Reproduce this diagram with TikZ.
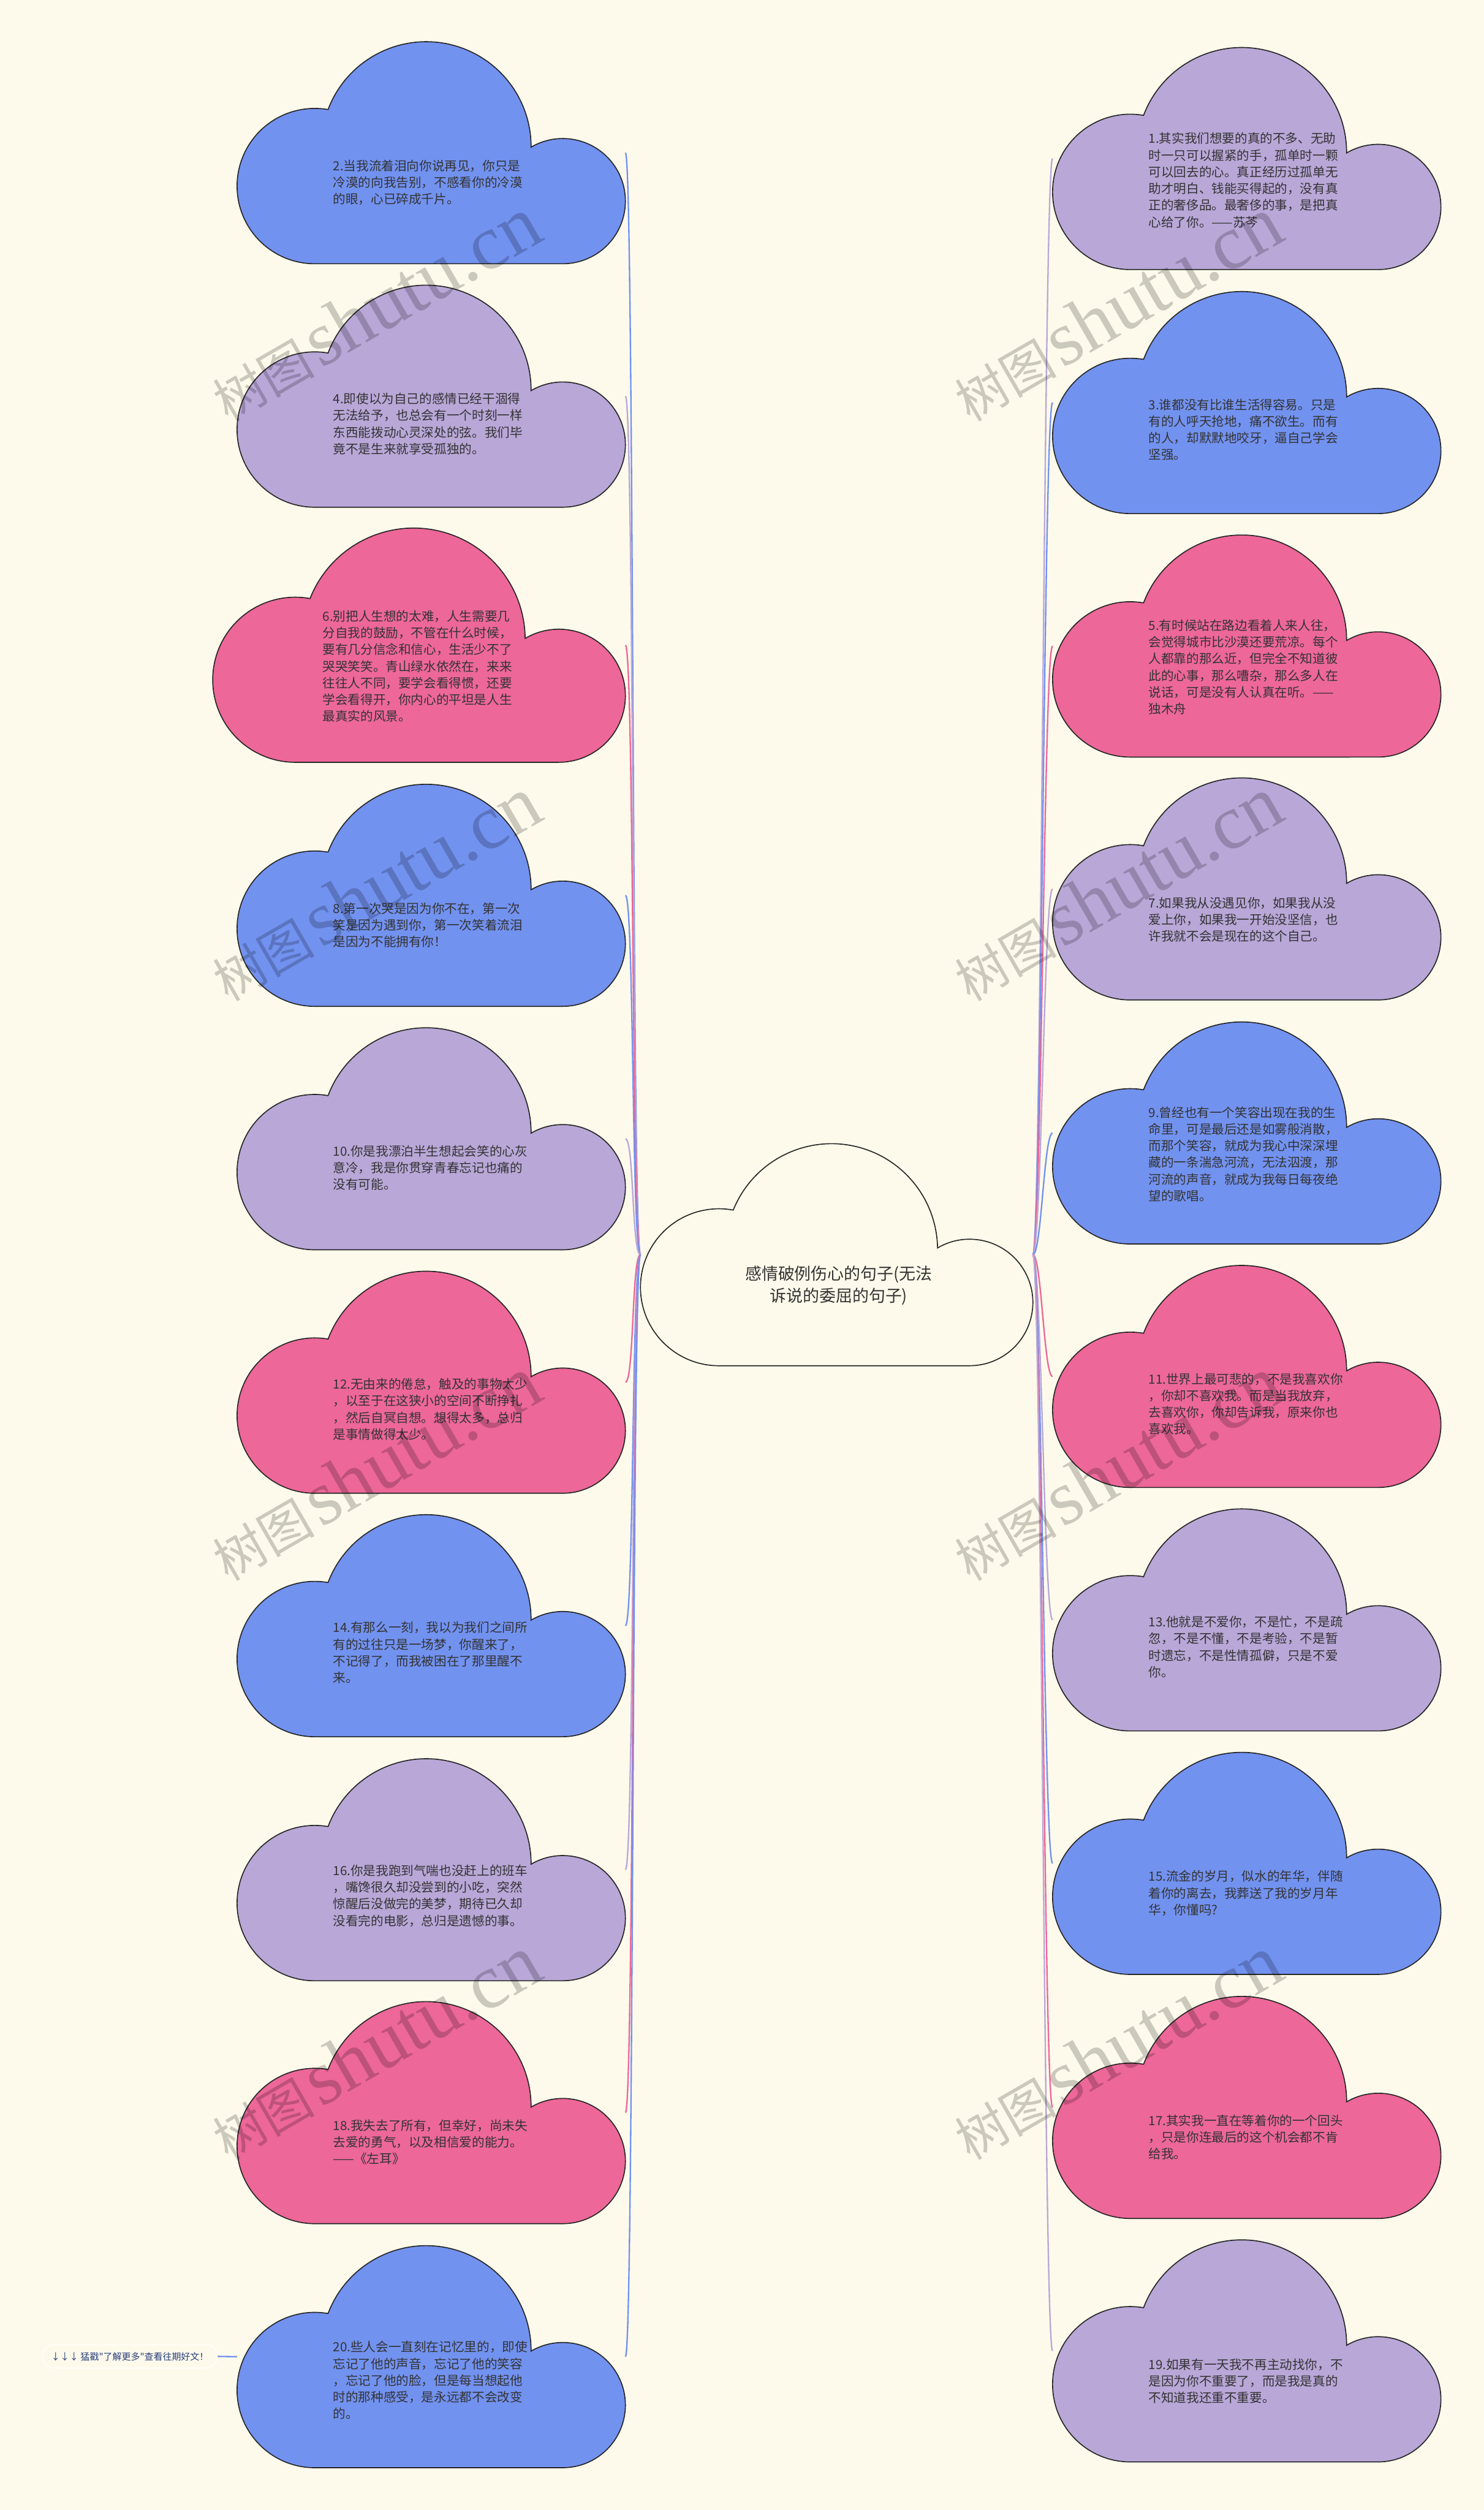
\documentclass[tikz,border=0pt]{standalone}
\usepackage{fontspec}
\usepackage{xcolor}
\newfontfamily\cjk{Noto Sans CJK SC}[Ligatures=TeXOff]
\setmainfont{Liberation Serif}
\definecolor{pagebg}{RGB}{254,250,235}
\definecolor{qblue}{RGB}{114,146,240}
\definecolor{qpurple}{RGB}{185,167,216}
\definecolor{qpink}{RGB}{237,103,152}
\definecolor{qgray}{RGB}{51,51,51}
\definecolor{qnavy}{RGB}{40,62,122}
\usepackage{tikz}
\usetikzlibrary{positioning,calc}

% cloud: name, left, top, width, height, fill
\newcommand\cloudnode[6]{%
  \pgfmathsetmacro\cS{(#4)/6.7}%
  \pgfmathsetmacro\cRa{1.34*\cS}%
  \pgfmathsetmacro\cRd{1.81*\cS}%
  \pgfmathsetmacro\cRb{1.08*\cS}%
  \pgfmathsetmacro\cBot{-(#3)-(#5)}%
  \pgfmathsetmacro\cXa{(#2)+\cRa}\pgfmathsetmacro\cYa{(\cBot)+\cRa}%
  \pgfmathsetmacro\cXd{(#2)+0.487*(#4)}\pgfmathsetmacro\cYd{-(#3)-\cRd}%
  \pgfmathsetmacro\cXb{(#2)+(#4)-\cRb}\pgfmathsetmacro\cYb{(\cBot)+\cRb}%
  \pgfmathsetmacro\cDa{veclen((\cXd)-(\cXa),(\cYd)-(\cYa))}%
  \pgfmathsetmacro\cTa{atan2((\cYd)-(\cYa),(\cXd)-(\cXa))+acos((\cDa*\cDa+\cRa*\cRa-\cRd*\cRd)/(2*\cDa*\cRa))}%
  \pgfmathsetmacro\cSa{atan2((\cYa)+\cRa*sin(\cTa)-(\cYd),(\cXa)+\cRa*cos(\cTa)-(\cXd))}%
  \pgfmathsetmacro\cDb{veclen((\cXb)-(\cXd),(\cYb)-(\cYd))}%
  \pgfmathsetmacro\cTb{atan2((\cYb)-(\cYd),(\cXb)-(\cXd))+acos((\cDb*\cDb+\cRd*\cRd-\cRb*\cRb)/(2*\cDb*\cRd))}%
  \pgfmathsetmacro\cSb{atan2((\cYd)+\cRd*sin(\cTb)-(\cYb),(\cXd)+\cRd*cos(\cTb)-(\cXb))}%
  \path[cloud, fill=#6] (\cXa,\cBot) arc[start angle=-90, end angle=\cTa-360, radius=\cRa]
    arc[start angle=\cSa, end angle=\cTb, radius=\cRd]
    arc[start angle=\cSb, end angle=-90, radius=\cRb] -- cycle;
  \node[cloudbox, minimum width=#4cm, minimum height=#5cm] (#1) at (#2+#4/2,-#3-#5/2) {};
}

\begin{document}
\begin{tikzpicture}[
  cloud/.style={draw=black!85, line width=0.5pt},
  cloudbox/.style={rectangle, inner sep=0pt, outer sep=0pt},
  quote/.style={anchor=north west, inner sep=0pt, align=left, text=qgray,
    font=\cjk\fontsize{6.2pt}{8.2pt}\selectfont},
  link/.style={line width=0.7pt},
  wmark/.style={rotate=30, text=black, opacity=0.2, inner sep=0pt}
]
  \useasboundingbox (0,0) rectangle (25.6,-43.3);
  \fill[pagebg] (0,0) rectangle (25.6,-43.3);

  % left column
  \cloudnode{q2}{4.09}{0.72}{6.70}{3.83}{qblue}
  \cloudnode{q4}{4.09}{4.92}{6.70}{3.83}{qpurple}
  \cloudnode{q6}{3.67}{9.11}{7.12}{4.04}{qpink}
  \cloudnode{q8}{4.09}{13.53}{6.70}{3.83}{qblue}
  \cloudnode{q10}{4.09}{17.73}{6.70}{3.83}{qpurple}
  \cloudnode{q12}{4.09}{21.93}{6.70}{3.83}{qpink}
  \cloudnode{q14}{4.09}{26.13}{6.70}{3.83}{qblue}
  \cloudnode{q16}{4.09}{30.34}{6.70}{3.83}{qpurple}
  \cloudnode{q18}{4.09}{34.53}{6.70}{3.83}{qpink}
  \cloudnode{q20}{4.09}{38.74}{6.70}{3.83}{qblue}
  % right column
  \cloudnode{q1}{18.16}{0.82}{6.70}{3.83}{qpurple}
  \cloudnode{q3}{18.16}{5.03}{6.70}{3.83}{qblue}
  \cloudnode{q5}{18.16}{9.23}{6.70}{3.83}{qpink}
  \cloudnode{q7}{18.16}{13.42}{6.70}{3.83}{qpurple}
  \cloudnode{q9}{18.16}{17.63}{6.70}{3.83}{qblue}
  \cloudnode{q11}{18.16}{21.83}{6.70}{3.83}{qpink}
  \cloudnode{q13}{18.16}{26.03}{6.70}{3.83}{qpurple}
  \cloudnode{q15}{18.16}{30.23}{6.70}{3.83}{qblue}
  \cloudnode{q17}{18.16}{34.44}{6.70}{3.83}{qpink}
  \cloudnode{q19}{18.16}{38.64}{6.70}{3.83}{qpurple}
  % centre
  \cloudnode{root}{11.05}{19.73}{6.77}{3.83}{pagebg}
  \node[align=center, inner sep=0pt, text=qgray, font=\cjk\fontsize{8.1pt}{10.8pt}\selectfont] (title) at (14.47,-22.18) {感情破例伤心的句子(无法\\诉说的委屈的句子)};

  % texts, left
  \node[quote] (t2) at (5.74,-2.75) {2.当我流着泪向你说再见，你只是\\冷漠的向我告别，不感看你的冷漠\\的眼，心已碎成千片。};
  \node[quote] (t4) at (5.74,-6.77) {4.即使以为自己的感情已经干涸得\\无法给予，也总会有一个时刻一样\\东西能拨动心灵深处的弦。我们毕\\竟不是生来就享受孤独的。};
  \node[quote] (t6) at (5.56,-10.52) {6.别把人生想的太难，人生需要几\\分自我的鼓励，不管在什么时候，\\要有几分信念和信心，生活少不了\\哭哭笑笑。青山绿水依然在，来来\\往往人不同，要学会看得惯，还要\\学会看得开，你内心的平坦是人生\\最真实的风景。};
  \node[quote] (t8) at (5.74,-15.56) {8.第一次哭是因为你不在，第一次\\笑是因为遇到你，第一次笑着流泪\\是因为不能拥有你！};
  \node[quote] (t10) at (5.74,-19.75) {10.你是我漂泊半生想起会笑的心灰\\意冷，我是你贯穿青春忘记也痛的\\没有可能。};
  \node[quote] (t12) at (5.74,-23.77) {12.无由来的倦怠，触及的事物太少\\，以至于在这狭小的空间不断挣扎\\，然后自冥自想。想得太多，总归\\是事情做得太少。};
  \node[quote] (t14) at (5.74,-27.97) {14.有那么一刻，我以为我们之间所\\有的过往只是一场梦，你醒来了，\\不记得了，而我被困在了那里醒不\\来。};
  \node[quote] (t16) at (5.74,-32.16) {16.你是我跑到气喘也没赶上的班车\\，嘴馋很久却没尝到的小吃，突然\\惊醒后没做完的美梦，期待已久却\\没看完的电影，总归是遗憾的事。};
  \node[quote] (t18) at (5.74,-36.56) {18.我失去了所有，但幸好，尚未失\\去爱的勇气，以及相信爱的能力。\\——《左耳》};
  \node[quote] (t20) at (5.74,-40.38) {20.些人会一直刻在记忆里的，即使\\忘记了他的声音，忘记了他的笑容\\，忘记了他的脸，但是每当想起他\\时的那种感受，是永远都不会改变\\的。};
  % texts, right
  \node[quote] (t1) at (19.81,-2.28) {1.其实我们想要的真的不多、无助\\时一只可以握紧的手，孤单时一颗\\可以回去的心。真正经历过孤单无\\助才明白、钱能买得起的，没有真\\正的奢侈品。最奢侈的事，是把真\\心给了你。——苏芩};
  \node[quote] (t3) at (19.81,-6.87) {3.谁都没有比谁生活得容易。只是\\有的人呼天抢地，痛不欲生。而有\\的人，却默默地咬牙，逼自己学会\\坚强。};
  \node[quote] (t5) at (19.81,-10.68) {5.有时候站在路边看着人来人往，\\会觉得城市比沙漠还要荒凉。每个\\人都靠的那么近，但完全不知道彼\\此的心事，那么嘈杂，那么多人在\\说话，可是没有人认真在听。——\\独木舟};
  \node[quote] (t7) at (19.81,-15.47) {7.如果我从没遇见你，如果我从没\\爱上你，如果我一开始没坚信，也\\许我就不会是现在的这个自己。};
  \node[quote] (t9) at (19.81,-19.08) {9.曾经也有一个笑容出现在我的生\\命里，可是最后还是如雾般消散，\\而那个笑容，就成为我心中深深埋\\藏的一条湍急河流，无法泅渡，那\\河流的声音，就成为我每日每夜绝\\望的歌唱。};
  \node[quote] (t11) at (19.81,-23.68) {11.世界上最可悲的，不是我喜欢你\\，你却不喜欢我。而是当我放弃，\\去喜欢你，你却告诉我，原来你也\\喜欢我。};
  \node[quote] (t13) at (19.81,-27.87) {13.他就是不爱你，不是忙，不是疏\\忽，不是不懂，不是考验，不是暂\\时遗忘，不是性情孤僻，只是不爱\\你。};
  \node[quote] (t15) at (19.81,-32.26) {15.流金的岁月，似水的年华，伴随\\着你的离去，我葬送了我的岁月年\\华，你懂吗?};
  \node[quote] (t17) at (19.81,-36.47) {17.其实我一直在等着你的一个回头\\，只是你连最后的这个机会都不肯\\给我。};
  \node[quote] (t19) at (19.81,-40.68) {19.如果有一天我不再主动找你，不\\是因为你不重要了，而是我是真的\\不知道我还重不重要。};

  % links from the centre
  \foreach \q/\c in {q2/qblue, q4/qpurple, q6/qpink, q8/qblue, q10/qpurple, q12/qpink, q14/qblue, q16/qpurple, q18/qpink, q20/qblue}
    \draw[link, \c] (root.west) .. controls +(-0.15,0) and +(0.15,0) .. (\q.east);
  \foreach \q/\c in {q1/qpurple, q3/qblue, q5/qpink, q7/qpurple, q9/qblue, q11/qpink, q13/qpurple, q15/qblue, q17/qpink, q19/qpurple}
    \draw[link, \c] (root.east) .. controls +(0.15,0) and +(-0.15,0) .. (\q.west);

  % footer
  \node[draw=white, rounded corners=0.2cm, minimum width=3.02cm, minimum height=0.4cm, inner sep=0pt, text=qnavy, font=\cjk\fontsize{4.5pt}{5pt}\selectfont] (more) at (2.24,-40.65) {↓↓↓ 猛戳"了解更多"查看往期好文！};
  \draw[link, qblue] (more.east) -- (q20.west);

  % watermarks
  \foreach \i/\x/\y in {1/6.47/-5.33, 2/19.27/-5.33, 3/6.47/-15.33, 4/19.27/-15.33, 5/6.47/-25.33, 6/19.27/-25.33, 7/6.47/-35.33, 8/19.27/-35.33}
    \node[wmark] (wm\i) at (\x,\y) {{\cjk\fontsize{25pt}{25pt}\selectfont 树图}\ {\fontsize{38pt}{38pt}\selectfont shutu.cn}};
\end{tikzpicture}
\end{document}
